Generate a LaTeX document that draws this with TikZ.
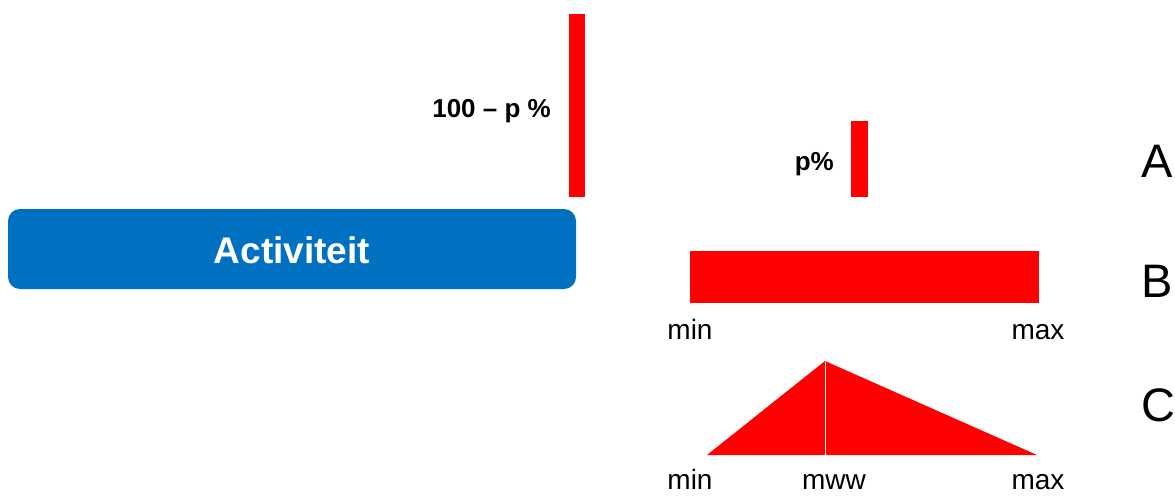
\documentclass[tikz,border=0pt]{standalone}
\usepackage{fontspec}
\setmainfont{Liberation Sans}
\definecolor{actblue}{HTML}{0070C0}
\definecolor{barred}{HTML}{FF0000}
\begin{document}
\begin{tikzpicture}[x=1pt,y=-1pt,
  bar/.style={fill=barred,draw=none},
  boldlbl/.style={font=\fontsize{26}{30}\selectfont\bfseries,anchor=base east,inner sep=0pt},
  axislbl/.style={font=\fontsize{28}{33}\selectfont,anchor=base,inner sep=0pt},
  rowlbl/.style={font=\fontsize{47}{52}\selectfont,anchor=base west,inner sep=0pt}]
\useasboundingbox (0,0) rectangle (1175,496);
% activity box
\fill[actblue,rounded corners=12pt] (8,209) rectangle (576,289);
\node[font=\fontsize{37}{40}\selectfont\bfseries,text=white,anchor=base,inner sep=0pt] (act) at (292,263) {Activiteit};
% tall bar
\fill[bar] (569,14) rectangle (585,197);
\node[boldlbl] (lbl100) at (551,117) {100 – p \%};
% small bar A
\fill[bar] (851,121) rectangle (868,197);
\node[boldlbl] (lblp) at (834,170) {p\%};
% rectangle B
\fill[bar] (690,251) rectangle (1039,303);
\node[axislbl] (minB) at (690,339) {min};
\node[axislbl] (maxB) at (1038,339) {max};
% triangle C
\fill[bar] (707,455) -- (825,361) -- (1037,455) -- cycle;
\draw[white,line width=0.8pt] (825,362) -- (825,455);
\node[axislbl] (minC) at (690,489) {min};
\node[axislbl] (mwwC) at (834,489) {mww};
\node[axislbl] (maxC) at (1038,489) {max};
% row labels
\node[rowlbl] (rowA) at (1141,177) {A};
\node[rowlbl] (rowB) at (1141,297) {B};
\node[rowlbl] (rowC) at (1141,421) {C};
\end{tikzpicture}
\end{document}
